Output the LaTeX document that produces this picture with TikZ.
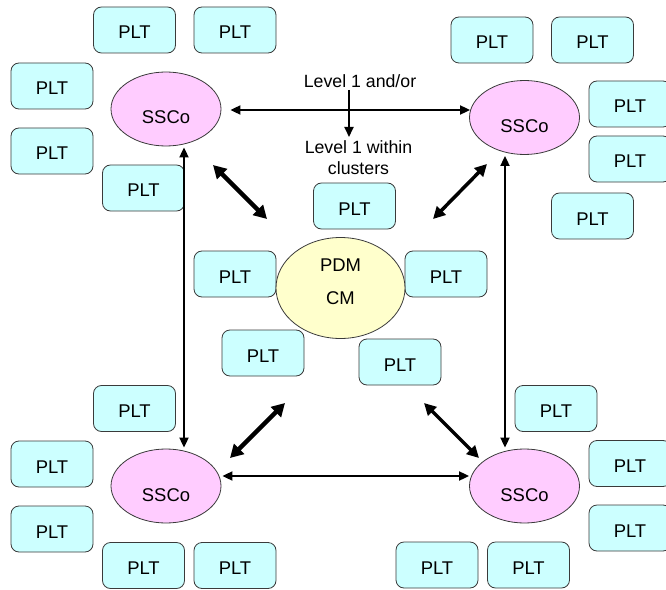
\documentclass[tikz,border=0pt]{standalone}
\usepackage{fontspec}
\setmainfont{Liberation Sans}
\usetikzlibrary{shapes.geometric,arrows.meta}
\definecolor{pltfill}{HTML}{CCFFFF}
\definecolor{ssfill}{HTML}{FFCCFF}
\definecolor{pdmfill}{HTML}{FFFFCC}
\definecolor{edge}{HTML}{3A3A3A}
\tikzset{
  plt/.style={draw=edge,line width=0.8bp,fill=pltfill,rounded corners=8bp,
    minimum width=82bp,minimum height=46bp,inner sep=0pt,
    text height=18bp,text depth=0pt,
    font=\fontsize{18.5}{21}\selectfont},
  ssco/.style={draw=edge,line width=0.8bp,fill=ssfill,ellipse,
    minimum width=110bp,minimum height=74bp,inner sep=0pt},
  pdm/.style={draw=edge,line width=0.8bp,fill=pdmfill,ellipse,
    minimum width=129bp,minimum height=101bp,inner sep=0pt},
  txt/.style={inner sep=0pt,font=\fontsize{18.5}{21}\selectfont},
  lbl/.style={inner sep=0pt,align=center,font=\fontsize{17.8}{21}\selectfont},
  thinarrow/.style={line width=1.8bp,{Triangle[length=10bp,width=9bp]}-{Triangle[length=10bp,width=9bp]}},
  downarrow/.style={line width=1.8bp,-{Triangle[length=10bp,width=9bp]}},
  thickarrow/.style={line width=4.5bp,{Triangle[length=13bp,width=14bp]}-{Triangle[length=13bp,width=14bp]}},
  medarrow/.style={line width=3.5bp,{Triangle[length=12bp,width=12bp]}-{Triangle[length=12bp,width=12bp]}},
}
\begin{document}
\begin{tikzpicture}[x=1bp,y=-1bp]
\useasboundingbox (0,0) rectangle (666,590);
% PLT boxes
\node[plt] (p1)  at (134.5,30) {PLT};
\node[plt] (p2)  at (235,30) {PLT};
\node[plt] (p3)  at (52,86) {PLT};
\node[plt] (p4)  at (52,151) {PLT};
\node[plt] (p5)  at (143.5,188) {PLT};
\node[plt] (p6)  at (235,274) {PLT};
\node[plt] (p7)  at (354.5,206) {PLT};
\node[plt] (p8)  at (492,40) {PLT};
\node[plt] (p9)  at (592.5,40) {PLT};
\node[plt] (p10) at (630,104) {PLT};
\node[plt] (p11) at (630,159) {PLT};
\node[plt] (p12) at (592.5,216) {PLT};
\node[plt] (p13) at (446,274) {PLT};
\node[plt] (p14) at (263,353) {PLT};
\node[plt] (p15) at (400,362) {PLT};
\node[plt] (p16) at (134.5,408.5) {PLT};
\node[plt] (p17) at (556,408.5) {PLT};
\node[plt] (p18) at (52,464) {PLT};
\node[plt] (p19) at (52,529) {PLT};
\node[plt] (p20) at (630,463.5) {PLT};
\node[plt] (p21) at (630,528) {PLT};
\node[plt] (p22) at (143.5,565.5) {PLT};
\node[plt] (p23) at (235,565.5) {PLT};
\node[plt] (p24) at (437,565) {PLT};
\node[plt] (p25) at (528.5,565) {PLT};
% ellipses
\node[ssco] (sTL) at (166,109) {};
\node[ssco] (sTR) at (524.5,117.5) {};
\node[ssco] (sBL) at (166,486) {};
\node[ssco] (sBR) at (524.5,486) {};
\node[txt] (tTL) at (166,117) {SSCo};
\node[txt] (tTR) at (524.5,126) {SSCo};
\node[txt] (tBL) at (166,495) {SSCo};
\node[txt] (tBR) at (524.5,495) {SSCo};
\node[pdm] (pdm) at (340.5,288) {};
\node[txt] (pdmt) at (340.5,265) {PDM};
\node[txt] (cmt) at (340.5,298) {CM};
% labels
\node[lbl] (l1) at (360,81) {Level 1 and/or};
\node[lbl] (l2) at (358.5,157.5) {Level 1 within\\clusters};
% connectors
\draw[thinarrow] ([xshift=9bp,yshift=-1bp]sTL.east) -- ([xshift=1bp,yshift=-1bp]sTL.east -| sTR.west);
\coordinate (vd1) at (349,90);
\coordinate (vd2) at (349,137);
\draw[downarrow] (vd1) -- (vd2);
\draw[thinarrow] ([xshift=18bp,yshift=-1bp]sTL.south) -- ([xshift=18bp,yshift=1bp]sBL.north);
\draw[thinarrow] ([xshift=-19.5bp,yshift=-1bp]sTR.south) -- ([xshift=-19.5bp,yshift=1bp]sBR.north);
\draw[thinarrow] ([xshift=1bp,yshift=10bp]sBL.east) -- ([yshift=10bp]sBR.west);
\coordinate (a1) at (213,165);
\coordinate (a2) at (267,219);
\coordinate (b1) at (487,164);
\coordinate (b2) at (433,219);
\coordinate (c1) at (230,458);
\coordinate (c2) at (285,403);
\coordinate (d1) at (424,403);
\coordinate (d2) at (479,458);
\draw[thickarrow] (a1) -- (a2);
\draw[medarrow] (b1) -- (b2);
\draw[thickarrow] (c1) -- (c2);
\draw[medarrow] (d1) -- (d2);
\end{tikzpicture}
\end{document}
